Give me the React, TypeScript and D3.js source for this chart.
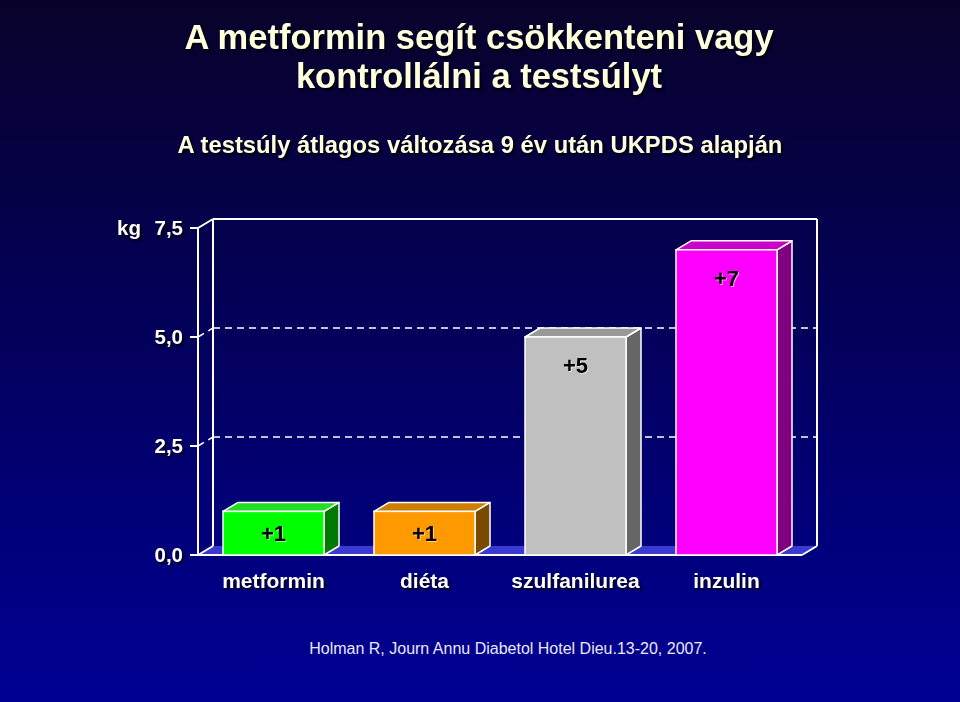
import React from "react";
import * as d3 from "d3";

const categories = ["metformin", "diéta", "szulfanilurea", "inzulin"];
const values = [1, 1, 5, 7];
const valueLabels = ["+1", "+1", "+5", "+7"];
const yTicks = [0, 2.5, 5, 7.5];
const yTickLabels = ["0,0", "2,5", "5,0", "7,5"];
const frontColors = ["#00ff00", "#ff9900", "#c0c0c0", "#ff00ff"];
const topColors = ["#22dd22", "#d07e00", "#999999", "#cc00cc"];
const sideColors = ["#007a00", "#7a4a00", "#666666", "#800080"];

const W = 960;
const H = 702;
const DX = 15;
const DY = -9;

export default function App() {
  const x = d3
    .scaleBand<string>()
    .domain(categories)
    .range([198, 802])
    .paddingInner(0.331)
    .paddingOuter(0.1655);
  const y = d3.scaleLinear().domain([0, 7.5]).range([555, 228]);
  const x0 = 198;
  const x1 = 802;
  const y0 = y(0);
  const yTop = y(7.5);

  const shadow = "drop-shadow(2px 2px 1px rgba(0,0,0,0.8))";
  const font = "'Liberation Sans', Arial, sans-serif";

  return (
    <svg
      width={W}
      height={H}
      style={{ position: "fixed", left: 0, top: 0, display: "block" }}
      fontFamily={font}
    >
      <defs>
        <linearGradient id="bg" x1="0" y1="0" x2="0" y2="1">
          <stop offset="0" stopColor="#08022a" />
          <stop offset="0.5" stopColor="#03005e" />
          <stop offset="1" stopColor="#000094" />
        </linearGradient>
      </defs>
      <rect x={0} y={0} width={W} height={H} fill="url(#bg)" />

      {/* Titles */}
      <g fill="#ffffdd" fontWeight="bold" textAnchor="middle" style={{ filter: shadow }}>
        <text x={479} y={49} fontSize={34.5}>A metformin segít csökkenteni vagy</text>
        <text x={479} y={88} fontSize={34.5}>kontrollálni a testsúlyt</text>
        <text x={480} y={153} fontSize={23.8}>A testsúly átlagos változása 9 év után UKPDS alapján</text>
      </g>

      {/* Back wall */}
      <g stroke="#ffffff" strokeWidth={2} fill="none">
        <line x1={x0 + DX} y1={yTop + DY} x2={x0 + DX} y2={y0 + DY} />
        <line x1={x0 + DX} y1={yTop + DY} x2={x1 + DX} y2={yTop + DY} />
        <line x1={x1 + DX} y1={yTop + DY} x2={x1 + DX} y2={y0 + DY} />
        <line x1={x0} y1={yTop} x2={x0 + DX} y2={yTop + DY} />
      </g>

      {/* Gridlines */}
      <g stroke="#ffffff" strokeWidth={1.5} fill="none">
        {yTicks
          .filter((t) => t > 0 && t < 7.5)
          .map((t) => (
            <g key={t}>
              <line x1={x0} y1={y(t)} x2={x0 + DX} y2={y(t) + DY} strokeDasharray="7,5" />
              <line x1={x0 + DX} y1={y(t) + DY} x2={x1 + DX} y2={y(t) + DY} strokeDasharray="7,5" />
            </g>
          ))}
      </g>

      {/* Floor */}
      <polygon
        points={`${x0},${y0} ${x1},${y0} ${x1 + DX},${y0 + DY} ${x0 + DX},${y0 + DY}`}
        fill="#3a3ad2"
        stroke="none"
      />
      <g stroke="#ffffff" strokeWidth={2}>
        <line x1={x0 - 8} y1={y0} x2={x1} y2={y0} />
        <line x1={x1} y1={y0} x2={x1 + DX} y2={y0 + DY} />
        <line x1={x0} y1={y0} x2={x0 + DX} y2={y0 + DY} />
      </g>

      {/* Bars */}
      {categories.map((c, i) => {
        const bx = x(c)!;
        const bw = x.bandwidth();
        const by = y(values[i]);
        const top = `${bx},${by} ${bx + bw},${by} ${bx + bw + DX},${by + DY} ${bx + DX},${by + DY}`;
        const side = `${bx + bw},${by} ${bx + bw},${y0} ${bx + bw + DX},${y0 + DY} ${bx + bw + DX},${by + DY}`;
        const labelY = Math.min(by + 28, (by + y0) / 2) + 8;
        return (
          <g key={c}>
            <polygon points={side} fill={sideColors[i]} stroke="#ffffff" strokeWidth={1.5} strokeLinejoin="round" />
            <polygon points={top} fill={topColors[i]} stroke="#ffffff" strokeWidth={1.5} strokeLinejoin="round" />
            <rect x={bx} y={by} width={bw} height={y0 - by} fill={frontColors[i]} stroke="#ffffff" strokeWidth={1.5} />
            <text
              x={bx + bw / 2}
              y={labelY}
              textAnchor="middle"
              fontSize={22}
              fontWeight="bold"
              fill="#000000"
              style={{ filter: "drop-shadow(1px 1px 0px rgba(255,255,255,0.6))" }}
            >
              {valueLabels[i]}
            </text>
            <text
              x={bx + bw / 2}
              y={588}
              textAnchor="middle"
              fontSize={21}
              fontWeight="bold"
              fill="#ffffff"
              style={{ filter: shadow }}
            >
              {c}
            </text>
          </g>
        );
      })}

      {/* Front Y axis */}
      <g stroke="#ffffff" strokeWidth={2}>
        <line x1={x0} y1={yTop} x2={x0} y2={y0} />
        {yTicks.map((t) => (
          <line key={t} x1={x0 - 8} y1={y(t)} x2={x0} y2={y(t)} />
        ))}
      </g>
      <g fill="#ffffff" fontWeight="bold" fontSize={20.5} textAnchor="end" style={{ filter: shadow }}>
        {yTicks.map((t, i) => (
          <text key={t} x={183} y={y(t) + 7}>
            {yTickLabels[i]}
          </text>
        ))}
        <text x={141} y={y(7.5) + 7}>kg</text>
      </g>

      {/* Citation */}
      <text x={508} y={654} textAnchor="middle" fontSize={16} fill="#e8e8ff">
        Holman R, Journ Annu Diabetol Hotel Dieu.13-20, 2007.
      </text>
    </svg>
  );
}
